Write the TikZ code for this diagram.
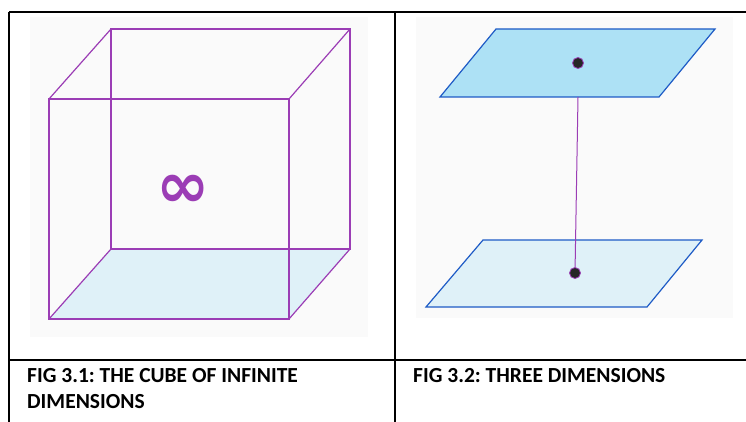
\documentclass[tikz,border=0pt]{standalone}
\usepackage{fontspec}
\setmainfont{Carlito}
\newfontfamily\symfnt{DejaVu Sans}
\definecolor{cubeline}{HTML}{9B3DB5}
\definecolor{floorfill}{HTML}{DFF1F8}
\definecolor{topfill}{HTML}{ADE1F5}
\definecolor{planeline}{HTML}{1E5BC6}
\definecolor{bgray}{HTML}{FAFAFA}
\begin{document}
\frenchspacing
\begin{tikzpicture}[x=1pt,y=-1pt,
  tableline/.style={line width=2pt,black},
  edge/.style={draw=cubeline,line width=1.2pt,line join=miter},
  plane/.style={draw=planeline,line width=1.2pt,line join=miter},
  dotn/.style={circle,fill=black!85,draw=cubeline,line width=0.8pt,inner sep=0pt,minimum size=11pt},
  caption/.style={anchor=north west,inner sep=0pt,font=\fontsize{21.5}{26}\selectfont\bfseries,align=left}]
\useasboundingbox (0,0) rectangle (746,422);
\fill[white] (0,0) rectangle (746,422);
% table
\draw[tableline] (9,12) -- (746,12);
\draw[tableline] (9,360) -- (746,360);
\draw[tableline] (9,12) -- (9,422);
\draw[tableline] (395,12) -- (395,422);
% left image
\fill[bgray] (30,17) rectangle (368,337);
\coordinate (f1) at (49,99); \coordinate (f2) at (289,99);
\coordinate (f3) at (289,319); \coordinate (f4) at (49,319);
\coordinate (b1) at (111,29); \coordinate (b2) at (350,29);
\coordinate (b3) at (350,249); \coordinate (b4) at (111,249);
\fill[floorfill] (f4) -- (f3) -- (b3) -- (b4) -- cycle;
\draw[edge] (b1) -- (b2) -- (b3) -- (b4) -- cycle;
\draw[edge] (f1) -- (f2) -- (f3) -- (f4) -- cycle;
\draw[edge] (f1) -- (b1);
\draw[edge] (f2) -- (b2);
\draw[edge] (f3) -- (b3);
\draw[edge] (f4) -- (b4);
\node[text=cubeline,font=\symfnt\bfseries\fontsize{64}{64}\selectfont,inner sep=0pt] (inf) at (183,191) {∞};
% right image
\fill[bgray] (416,17) rectangle (733,318);
\coordinate (t1) at (496,29); \coordinate (t2) at (715,29);
\coordinate (t3) at (659,97); \coordinate (t4) at (440,97);
\coordinate (u1) at (483,240); \coordinate (u2) at (702,240);
\coordinate (u3) at (647,307); \coordinate (u4) at (426,307);
\filldraw[plane,fill=topfill] (t1) -- (t2) -- (t3) -- (t4) -- cycle;
\filldraw[plane,fill=floorfill] (u1) -- (u2) -- (u3) -- (u4) -- cycle;
\coordinate (lt) at (578,97);
\node[dotn] (d1) at (578,63) {};
\node[dotn] (d2) at (575,273) {};
\draw[cubeline,line width=1pt] (lt) -- (d2);
% captions
\node[caption] (c1) at (27,368) {FIG 3.1: THE CUBE OF INFINITE\\DIMENSIONS};
\node[caption] (c2) at (413,368) {FIG 3.2: THREE DIMENSIONS};
\end{tikzpicture}
\end{document}
